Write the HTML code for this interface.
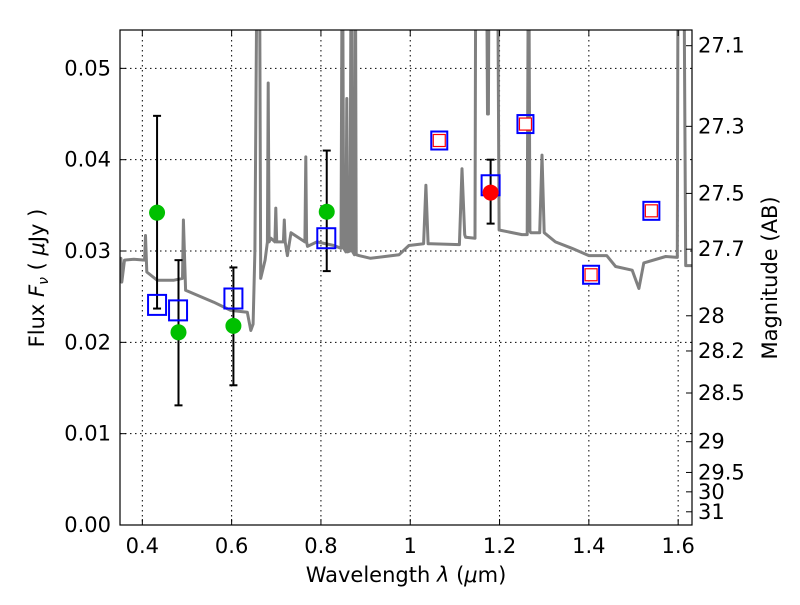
<!DOCTYPE html>
<html><head><meta charset="utf-8"><style>
body{margin:0;background:#fff;}
svg text{font-family:"DejaVu Sans","Liberation Sans",sans-serif;}
</style></head><body>
<svg id="chart" width="800" height="600" xmlns="http://www.w3.org/2000/svg">
<defs><clipPath id="clip"><rect x="120" y="30" width="572" height="495"/></clipPath></defs>
<rect width="800" height="600" fill="#fff"/>
<g id="grid"></g>
<g id="plot" clip-path="url(#clip)"></g>
<rect x="120" y="30" width="572" height="495" fill="none" stroke="#000" stroke-width="1.2"/>
<g id="ticks"></g>
<text x="406" y="582" font-size="21" text-anchor="middle">Wavelength  <tspan font-style="italic">λ</tspan> (<tspan font-style="italic">μ</tspan>m)</text>
<text transform="translate(44,278) rotate(-90)" font-size="21" text-anchor="middle">Flux  <tspan font-style="italic">F<tspan font-size="14" dy="4">ν</tspan></tspan><tspan dy="-4">  ( </tspan><tspan font-style="italic">μ</tspan>Jy )</text>
<text transform="translate(777,278) rotate(-90)" font-size="21" text-anchor="middle">Magnitude (AB)</text>
</svg>
<script>
const xTicks=[0.4,0.6,0.8,1.0,1.2,1.4,1.6];
const xTickLabels=["0.4","0.6","0.8","1","1.2","1.4","1.6"];
const yTicks=[0,0.01,0.02,0.03,0.04,0.05];
const yTickLabels=["0.00","0.01","0.02","0.03","0.04","0.05"];
const magTicks=[27.1,27.3,27.5,27.7,28,28.2,28.5,29,29.5,30,31];
const magTickLabels=["27.1","27.3","27.5","27.7","28","28.2","28.5","29","29.5","30","31"];
const specWave=[0.35,0.352,0.354,0.36,0.381,0.405,0.407,0.41,0.433,0.471,0.49,0.492,0.497,0.56,0.598,0.635,0.643,0.648,0.652,0.658,0.662,0.665,0.675,0.68,0.682,0.684,0.688,0.697,0.699,0.701,0.716,0.718,0.72,0.725,0.733,0.764,0.766,0.768,0.77,0.791,0.829,0.845,0.848,0.851,0.856,0.858,0.86,0.865,0.868,0.87,0.875,0.877,0.879,0.885,0.911,0.975,0.997,1.03,1.035,1.04,1.046,1.11,1.116,1.122,1.124,1.145,1.147,1.15,1.17,1.173,1.175,1.177,1.195,1.199,1.25,1.262,1.265,1.268,1.27,1.29,1.295,1.3,1.325,1.362,1.4,1.44,1.46,1.497,1.512,1.523,1.572,1.598,1.6,1.605,1.612,1.617,1.63];
const specFlux=[0.029,0.0292,0.0266,0.029,0.0291,0.029,0.0317,0.0277,0.0268,0.0268,0.027,0.0334,0.0257,0.0244,0.0235,0.0233,0.0213,0.022,0.03,0.07,0.07,0.027,0.029,0.031,0.0484,0.031,0.0314,0.031,0.0347,0.031,0.031,0.0334,0.031,0.0295,0.032,0.031,0.0403,0.031,0.0305,0.031,0.0306,0.0303,0.07,0.0303,0.0299,0.0467,0.0299,0.03,0.07,0.03,0.0296,0.07,0.0296,0.0295,0.0292,0.0296,0.0306,0.0308,0.0372,0.0308,0.0308,0.0307,0.039,0.0318,0.0315,0.0314,0.07,0.07,0.07,0.045,0.045,0.07,0.07,0.0323,0.0318,0.0318,0.07,0.0322,0.032,0.032,0.0405,0.032,0.031,0.0303,0.0295,0.0295,0.0283,0.0279,0.0259,0.0287,0.0294,0.0293,0.07,0.07,0.07,0.0284,0.0284];
const obsWave=[0.433,0.481,0.604,0.813];
const obsFlux=[0.0342,0.0211,0.0218,0.0343];
const obsLo=[0.0237,0.0131,0.0153,0.0278];
const obsHi=[0.0448,0.029,0.0282,0.041];
const redWave=[1.18];const redFlux=[0.0364];const redLo=[0.033];const redHi=[0.040];
const modelWave=[0.433,0.48,0.604,0.812,1.18];
const modelFlux=[0.0241,0.0235,0.0248,0.0314,0.0372];
const modelRedWave=[1.065,1.258,1.405,1.54];
const modelRedFlux=[0.0421,0.0439,0.0274,0.0344];

const X0=120,X1=692,Y0=525,Y1=30,xmin=0.35,xmax=1.631,ymin=0,ymax=0.0542;
const sx=v=>X0+(v-xmin)/(xmax-xmin)*(X1-X0);
const sy=v=>Y0-(v-ymin)/(ymax-ymin)*(Y0-Y1);
const NS="http://www.w3.org/2000/svg";
function mk(tag,attrs,parent){const e=document.createElementNS(NS,tag);for(const k in attrs)e.setAttribute(k,attrs[k]);parent.appendChild(e);return e;}
const grid=document.getElementById('grid'),plot=document.getElementById('plot'),ticks=document.getElementById('ticks');
xTicks.forEach((t,i)=>{
  const g=mk('line',{x1:sx(t),x2:sx(t),y1:Y1,y2:Y0,stroke:'#000','stroke-width':1,'stroke-dasharray':'1.5,3.5'},grid);
  
  
  mk('line',{x1:sx(t),x2:sx(t),y1:Y0,y2:Y0-6,stroke:'#000'},ticks);
  mk('line',{x1:sx(t),x2:sx(t),y1:Y1,y2:Y1+6,stroke:'#000'},ticks);
  const tx=mk('text',{x:sx(t),y:553,'font-size':21,'text-anchor':'middle'},ticks);tx.textContent=xTickLabels[i];
  
  
});
yTicks.forEach((t,i)=>{
  const g=mk('line',{x1:X0,x2:X1,y1:sy(t),y2:sy(t),stroke:'#000','stroke-width':1,'stroke-dasharray':'1.5,3.5'},grid);
  
  
  mk('line',{x1:X0,x2:X0+6,y1:sy(t),y2:sy(t),stroke:'#000'},ticks);
  const tx=mk('text',{x:111,y:sy(t)+7,'font-size':21,'text-anchor':'end'},ticks);tx.textContent=yTickLabels[i];
  
  
});
magTicks.forEach((m,i)=>{
  const y=sy(Math.pow(10,(23.9-m)/2.5));
  mk('line',{x1:X1,x2:X1-6,y1:y,y2:y,stroke:'#000'},ticks);
  const tx=mk('text',{x:698,y:y+7,'font-size':21},ticks);tx.textContent=magTickLabels[i];
  
  
});
const pts=specWave.map((w,i)=>sx(w).toFixed(1)+','+sy(specFlux[i]).toFixed(1)).join(' ');
const sp=mk('polyline',{points:pts,fill:'none',stroke:'#808080','stroke-width':3,'stroke-linejoin':'round'},plot);


function err(w,lo,hi){const x=sx(w);
  const g=mk('g',{stroke:'#000','stroke-width':2},plot);
  
  
  mk('line',{x1:x,x2:x,y1:sy(lo),y2:sy(hi)},g);
  mk('line',{x1:x-4,x2:x+4,y1:sy(lo),y2:sy(lo)},g);
  mk('line',{x1:x-4,x2:x+4,y1:sy(hi),y2:sy(hi)},g);}
obsWave.forEach((w,i)=>err(w,obsLo[i],obsHi[i]));
redWave.forEach((w,i)=>err(w,redLo[i],redHi[i]));
modelWave.forEach((w,i)=>{
  const r=mk('rect',{x:sx(w)-9,y:sy(modelFlux[i])-10,width:18,height:20,fill:'none',stroke:'#0000ff','stroke-width':2},plot);
  
  
});
modelRedWave.forEach((w,i)=>{
  const r=mk('rect',{x:sx(w)-8,y:sy(modelRedFlux[i])-9,width:16,height:18,fill:'none',stroke:'#0000ff','stroke-width':2},plot);
  
  
  const r2=mk('rect',{x:sx(w)-6,y:sy(modelRedFlux[i])-6,width:12,height:12,fill:'#fff',stroke:'#ff0000','stroke-width':1.2},plot);
  
  
});
obsWave.forEach((w,i)=>{
  const c=mk('circle',{cx:sx(w),cy:sy(obsFlux[i]),r:8,fill:'#00c000'},plot);
  
  
});
redWave.forEach((w,i)=>{
  const c=mk('circle',{cx:sx(w),cy:sy(redFlux[i]),r:8,fill:'#ff0000'},plot);
  
  
});
</script>
</body></html>
